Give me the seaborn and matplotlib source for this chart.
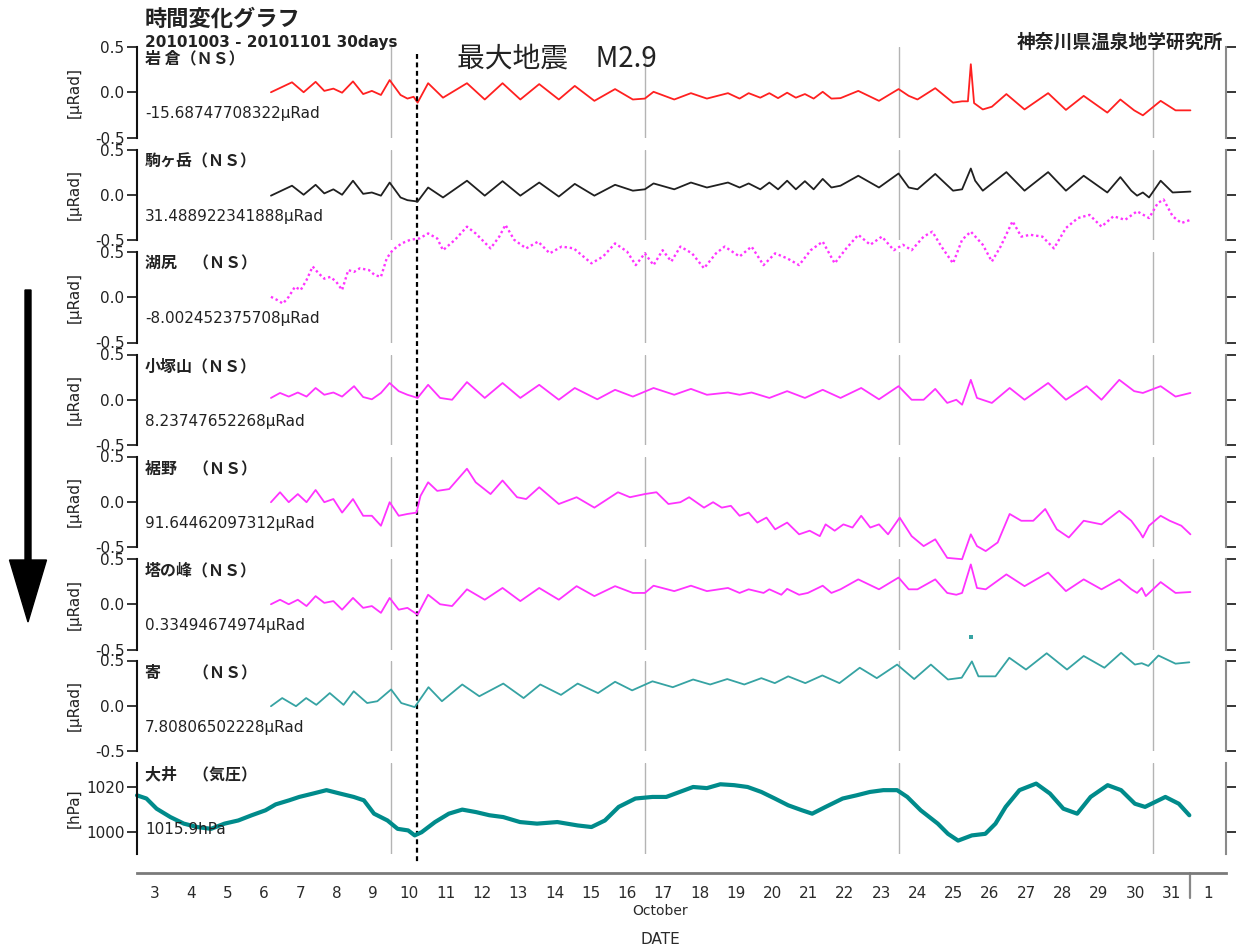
import matplotlib
matplotlib.use("Agg")
import numpy as np
import matplotlib.pyplot as plt
import matplotlib.patches as mpatches
from matplotlib.transforms import blended_transform_factory
import seaborn as sns

# ---- values: x = day of October (10.0 = Oct 10 00:00) ----
iwakura_day = [6.69, 7.27, 7.59, 7.92, 8.16, 8.41, 8.65, 8.95, 9.23, 9.47, 9.72, 9.96, 10.26, 10.45,
               10.62, 10.73, 11.02, 11.43, 12.09, 12.58, 13.07, 13.56, 14.08, 14.62, 15.06, 15.60,
               16.17, 16.66, 16.99, 17.23, 17.80, 18.26, 18.70, 19.28, 19.60, 19.85, 20.17, 20.42,
               20.66, 20.91, 21.15, 21.40, 21.64, 21.89, 22.13, 22.38, 22.87, 23.44, 23.98, 24.26,
               24.50, 24.99, 25.48, 25.73, 25.89, 25.97, 26.06, 26.30, 26.55, 26.95, 27.45, 28.10,
               28.59, 29.08, 29.73, 30.09, 30.47, 30.71, 31.20, 31.61, 32.02]
iwakura_val = [0.0, 0.11, 0.0, 0.115, 0.015, 0.04, -0.005, 0.12, -0.02, 0.015, -0.03, 0.135, -0.03, -0.07,
               -0.05, -0.115, 0.1, -0.06, 0.1, -0.08, 0.1, -0.08, 0.09, -0.08, 0.07, -0.095,
               0.035, -0.08, -0.07, 0.005, -0.08, -0.01, -0.07, -0.01, -0.07, -0.01, -0.06, -0.01,
               -0.065, -0.005, -0.06, -0.02, -0.07, 0.005, -0.07, -0.065, 0.015, -0.095, 0.035, -0.04,
               -0.08, 0.045, -0.115, -0.1, -0.1, 0.31, -0.12, -0.19, -0.16, -0.02, -0.19, -0.01,
               -0.195, -0.04, -0.225, -0.08, -0.2, -0.255, -0.095, -0.2, -0.2]

koma_day = [6.69, 7.27, 7.59, 7.92, 8.16, 8.41, 8.65, 8.95, 9.23, 9.47, 9.72, 9.96, 10.26, 10.45,
            10.73, 11.02, 11.43, 12.09, 12.58, 13.07, 13.56, 14.08, 14.62, 15.06, 15.60, 16.17,
            16.66, 16.99, 17.23, 17.80, 18.26, 18.70, 19.28, 19.60, 19.85, 20.17, 20.42, 20.66,
            20.91, 21.15, 21.40, 21.64, 21.89, 22.13, 22.38, 22.87, 23.44, 23.98, 24.26, 24.50,
            24.99, 25.48, 25.73, 25.97, 26.09, 26.30, 26.95, 27.45, 28.10, 28.59, 29.08, 29.73,
            30.09, 30.39, 30.55, 30.71, 30.88, 31.20, 31.53, 32.02]
koma_val = [-0.01, 0.1, 0.0, 0.11, 0.015, 0.06, 0.0, 0.155, 0.01, 0.025, -0.01, 0.135, -0.03, -0.06,
            -0.075, 0.08, -0.03, 0.155, -0.01, 0.15, -0.01, 0.135, -0.02, 0.12, -0.01, 0.11,
            0.045, 0.06, 0.125, 0.06, 0.135, 0.08, 0.135, 0.08, 0.125, 0.06, 0.135, 0.06,
            0.155, 0.06, 0.15, 0.06, 0.175, 0.08, 0.1, 0.21, 0.08, 0.235, 0.08, 0.06,
            0.23, 0.045, 0.06, 0.29, 0.155, 0.045, 0.25, 0.045, 0.25, 0.045, 0.21, 0.025,
            0.195, 0.045, -0.01, 0.025, -0.03, 0.155, 0.025, 0.035]

kojiri_day = [6.69, 6.86, 7.02, 7.18, 7.35, 7.51, 7.67, 7.84, 8.0, 8.16, 8.33, 8.49, 8.65, 8.82,
              8.98, 9.14, 9.39, 9.55, 9.72, 9.88, 10.04, 10.29, 10.53, 10.78, 11.02, 11.27, 11.43,
              11.76, 12.09, 12.33, 12.74, 12.98, 13.15, 13.39, 13.72, 14.05, 14.37, 14.70, 15.03,
              15.52, 15.84, 16.17, 16.50, 16.74, 16.99, 17.23, 17.48, 17.72, 17.97, 18.29, 18.62,
              18.95, 19.19, 19.60, 19.93, 20.26, 20.58, 20.91, 21.24, 21.56, 21.89, 22.22, 22.54,
              22.87, 23.20, 23.52, 23.85, 24.10, 24.34, 24.67, 24.91, 25.16, 25.48, 25.73, 25.97,
              26.30, 26.55, 26.79, 27.12, 27.36, 27.61, 27.94, 28.26, 28.59, 28.92, 29.24, 29.57,
              29.90, 30.22, 30.55, 30.88, 31.12, 31.28, 31.53, 31.77, 32.02]
kojiri_val = [0.005, -0.03, -0.07, 0.005, 0.115, 0.08, 0.19, 0.34, 0.265, 0.205, 0.225, 0.17, 0.08, 0.3,
              0.28, 0.32, 0.3, 0.245, 0.225, 0.43, 0.52, 0.595, 0.635, 0.65, 0.705, 0.65, 0.52,
              0.635, 0.78, 0.705, 0.54, 0.67, 0.8, 0.635, 0.54, 0.615, 0.485, 0.56, 0.54,
              0.375, 0.45, 0.595, 0.505, 0.355, 0.485, 0.355, 0.52, 0.395, 0.56, 0.485, 0.32,
              0.485, 0.56, 0.45, 0.56, 0.355, 0.485, 0.43, 0.355, 0.52, 0.615, 0.375, 0.54,
              0.69, 0.58, 0.67, 0.52, 0.58, 0.52, 0.67, 0.725, 0.56, 0.375, 0.635, 0.725,
              0.58, 0.395, 0.56, 0.84, 0.67, 0.69, 0.67, 0.54, 0.765, 0.875, 0.91, 0.78,
              0.895, 0.855, 0.95, 0.875, 1.04, 1.08, 0.895, 0.82, 0.855]

kozuka_day = [6.69, 6.94, 7.18, 7.43, 7.67, 7.92, 8.16, 8.41, 8.65, 8.98, 9.23, 9.47, 9.72, 9.96,
              10.21, 10.45, 10.73, 11.02, 11.35, 11.68, 12.09, 12.58, 13.07, 13.56, 14.08, 14.62,
              15.06, 15.68, 16.17, 16.66, 17.23, 17.80, 18.26, 18.70, 19.28, 19.60, 19.93, 20.42,
              20.91, 21.40, 21.89, 22.38, 22.95, 23.44, 23.98, 24.34, 24.67, 24.99, 25.32, 25.57,
              25.73, 25.97, 26.14, 26.55, 27.04, 27.45, 28.10, 28.59, 29.16, 29.57, 30.06, 30.47,
              30.71, 31.20, 31.61, 32.02]
kozuka_val = [0.02, 0.075, 0.035, 0.08, 0.035, 0.13, 0.055, 0.08, 0.035, 0.15, 0.03, 0.005, 0.075, 0.185,
              0.095, 0.055, 0.02, 0.165, 0.02, 0.0, 0.195, 0.02, 0.185, 0.02, 0.165, 0.0,
              0.13, 0.005, 0.11, 0.035, 0.13, 0.055, 0.12, 0.055, 0.08, 0.055, 0.08, 0.02,
              0.095, 0.02, 0.11, 0.02, 0.13, 0.005, 0.15, 0.0, 0.0, 0.12, -0.035, 0.0,
              -0.055, 0.22, 0.02, -0.035, 0.13, 0.0, 0.185, 0.0, 0.15, 0.0, 0.22, 0.095,
              0.075, 0.15, 0.035, 0.075]

susono_day = [6.69, 6.94, 7.18, 7.43, 7.67, 7.92, 8.16, 8.41, 8.65, 8.95, 9.23, 9.47, 9.72, 9.96,
              10.21, 10.45, 10.70, 10.81, 11.02, 11.27, 11.60, 12.09, 12.33, 12.74, 13.07, 13.47,
              13.72, 14.08, 14.62, 15.11, 15.60, 16.25, 16.58, 16.99, 17.31, 17.64, 17.97, 18.21,
              18.62, 18.87, 19.11, 19.36, 19.60, 19.85, 20.09, 20.34, 20.58, 20.91, 21.24, 21.53,
              21.81, 21.97, 22.22, 22.46, 22.71, 22.95, 23.20, 23.44, 23.69, 24.01, 24.34, 24.67,
              24.99, 25.32, 25.73, 25.97, 26.14, 26.38, 26.71, 27.04, 27.36, 27.69, 28.02, 28.34,
              28.67, 29.08, 29.57, 30.06, 30.39, 30.63, 30.71, 30.88, 31.20, 31.45, 31.77, 32.02]
susono_val = [-0.005, 0.105, -0.005, 0.085, -0.005, 0.13, -0.005, 0.03, -0.12, 0.03, -0.155, -0.155, -0.265, -0.005,
              -0.155, -0.135, -0.12, 0.065, 0.215, 0.12, 0.14, 0.365, 0.215, 0.085, 0.235, 0.05,
              0.03, 0.16, -0.025, 0.05, -0.065, 0.105, 0.05, 0.085, 0.105, -0.025, -0.005, 0.05,
              -0.065, -0.005, -0.065, -0.045, -0.155, -0.12, -0.23, -0.175, -0.305, -0.23, -0.36, -0.32,
              -0.38, -0.25, -0.32, -0.25, -0.285, -0.155, -0.285, -0.25, -0.36, -0.175, -0.38, -0.49,
              -0.415, -0.62, -0.635, -0.36, -0.49, -0.545, -0.45, -0.135, -0.21, -0.21, -0.08, -0.305,
              -0.395, -0.21, -0.25, -0.1, -0.21, -0.34, -0.395, -0.265, -0.155, -0.21, -0.265, -0.36]

tonomine_day = [6.69, 6.94, 7.18, 7.43, 7.67, 7.92, 8.16, 8.41, 8.65, 8.95, 9.23, 9.47, 9.72, 9.96,
                10.21, 10.45, 10.73, 11.02, 11.35, 11.68, 12.09, 12.58, 13.07, 13.56, 14.08, 14.62,
                15.11, 15.60, 16.17, 16.66, 16.99, 17.23, 17.80, 18.26, 18.70, 19.03, 19.28, 19.60,
                19.85, 20.26, 20.42, 20.75, 20.91, 21.24, 21.48, 21.89, 22.13, 22.38, 22.87, 23.44,
                23.98, 24.26, 24.50, 24.99, 25.32, 25.57, 25.73, 25.97, 26.14, 26.38, 26.95, 27.45,
                28.10, 28.59, 29.08, 29.57, 30.06, 30.39, 30.55, 30.68, 30.79, 31.20, 31.61, 32.02]
tonomine_val = [0.0, 0.05, 0.0, 0.05, -0.02, 0.09, 0.015, 0.035, -0.06, 0.07, -0.04, -0.02, -0.095, 0.07,
                -0.06, -0.04, -0.115, 0.105, 0.0, -0.02, 0.165, 0.05, 0.18, 0.035, 0.18, 0.05,
                0.2, 0.09, 0.2, 0.125, 0.125, 0.205, 0.145, 0.205, 0.145, 0.165, 0.18, 0.125,
                0.165, 0.125, 0.165, 0.105, 0.17, 0.105, 0.125, 0.205, 0.125, 0.165, 0.275, 0.165,
                0.295, 0.165, 0.165, 0.275, 0.125, 0.105, 0.125, 0.44, 0.18, 0.165, 0.33, 0.2,
                0.35, 0.145, 0.275, 0.165, 0.275, 0.165, 0.125, 0.18, 0.09, 0.245, 0.125, 0.135]

yado_day = [6.69, 7.0, 7.38, 7.66, 7.94, 8.31, 8.69, 8.97, 9.34, 9.62, 10.0, 10.28, 10.65, 11.03,
            11.4, 11.96, 12.43, 13.09, 13.65, 14.11, 14.68, 15.14, 15.7, 16.17, 16.64, 17.2,
            17.76, 18.32, 18.79, 19.26, 19.73, 20.2, 20.57, 20.94, 21.41, 21.88, 22.35, 22.91,
            23.38, 23.94, 24.41, 24.87, 25.34, 25.72, 26.0, 26.18, 26.65, 27.03, 27.49, 28.06,
            28.62, 29.08, 29.65, 30.11, 30.49, 30.68, 30.86, 31.14, 31.61, 31.99]
yado_val = [-0.005, 0.085, -0.005, 0.085, 0.01, 0.14, 0.01, 0.16, 0.03, 0.05, 0.18, 0.03, -0.015, 0.205,
            0.05, 0.235, 0.105, 0.245, 0.085, 0.235, 0.12, 0.245, 0.14, 0.265, 0.17, 0.27,
            0.205, 0.29, 0.235, 0.295, 0.235, 0.305, 0.25, 0.325, 0.25, 0.335, 0.25, 0.42,
            0.305, 0.455, 0.295, 0.455, 0.29, 0.31, 0.49, 0.325, 0.325, 0.53, 0.4, 0.58,
            0.4, 0.55, 0.42, 0.585, 0.455, 0.47, 0.44, 0.555, 0.465, 0.48]
yado_spike_day = [25.97]
yado_spike_val = [0.76]

oi_day = [3.0, 3.26, 3.54, 3.92, 4.29, 4.66, 5.04, 5.41, 5.79, 6.16, 6.54, 6.82, 7.19, 7.47,
          7.85, 8.22, 8.59, 8.97, 9.25, 9.53, 9.9, 10.18, 10.47, 10.65, 10.84, 11.21, 11.59,
          11.96, 12.34, 12.71, 13.09, 13.55, 14.02, 14.58, 15.14, 15.52, 15.89, 16.27, 16.73,
          17.2, 17.58, 17.95, 18.32, 18.7, 19.07, 19.45, 19.82, 20.2, 20.57, 20.94, 21.32,
          21.6, 21.97, 22.44, 22.82, 23.19, 23.56, 23.94, 24.22, 24.59, 25.06, 25.34, 25.62,
          26.0, 26.37, 26.65, 26.93, 27.31, 27.77, 28.15, 28.52, 28.9, 29.27, 29.74, 30.11,
          30.49, 30.77, 31.05, 31.33, 31.7, 31.99]
oi_val = [1016.4, 1015.0, 1010.5, 1006.8, 1003.9, 1002.4, 1001.6, 1003.9, 1005.3, 1007.6, 1009.8, 1012.4,
          1014.2, 1015.7, 1017.2, 1018.7, 1017.2, 1015.7, 1014.2, 1008.3, 1005.3, 1001.6, 1000.9, 998.7,
          1000.1, 1004.6, 1008.3, 1010.1, 1009.0, 1007.6, 1006.8, 1004.6, 1003.9, 1004.6, 1003.1, 1002.4,
          1005.3, 1011.3, 1015.0, 1015.7, 1015.7, 1017.9, 1020.1, 1019.6, 1021.3, 1020.9, 1020.1, 1017.9,
          1015.0, 1012.0, 1009.8, 1008.3, 1011.3, 1015.0, 1016.4, 1017.9, 1018.7, 1018.7, 1015.7, 1009.8,
          1003.9, 999.4, 996.4, 998.7, 999.4, 1003.9, 1011.3, 1018.7, 1021.6, 1017.2, 1010.5, 1008.3,
          1015.7, 1020.9, 1018.7, 1012.7, 1011.3, 1013.5, 1015.7, 1012.7, 1007.6]

names = ["岩 倉（ＮＳ）", "駒ヶ岳（ＮＳ）", "湖尻　（ＮＳ）", "小塚山（ＮＳ）",
         "裾野　（ＮＳ）", "塔の峰（ＮＳ）", "寄　　（ＮＳ）", "大井　（気圧）"]
offsets = ["-15.68747708322μRad", "31.488922341888μRad", "-8.002452375708μRad",
           "8.23747652268μRad", "91.64462097312μRad", "0.33494674974μRad",
           "7.80806502228μRad", "1015.9hPa"]
colors = ["#ff2020", "#202020", "#ff33ff", "#ff33ff", "#ff33ff", "#ff33ff", "#36a3a3", "#008b8b"]
week_lines = [10, 17, 24, 31]
quake_day = 10.70
day_labels = [str(d) for d in range(3, 32)] + ["1"]

series = [(iwakura_day, iwakura_val), (koma_day, koma_val), (kojiri_day, kojiri_val),
          (kozuka_day, kozuka_val), (susono_day, susono_val), (tonomine_day, tonomine_val),
          (yado_day, yado_val), (oi_day, oi_val)]

sns.set_style("white")
plt.rcParams["font.family"] = ["DejaVu Sans", "Noto Sans CJK JP"]
JP = ["Noto Sans CJK JP", "DejaVu Sans"]

W, H = 1236, 950
fig = plt.figure(figsize=(W / 100, H / 100), dpi=100)
left, right = 137, 1226
tops = [47, 149.5, 252, 354.5, 456.5, 559, 660.5, 763]
ph = 90.5

axes = []
for i, top in enumerate(tops):
    ax = fig.add_axes([left / W, 1 - (top + ph) / H, (right - left) / W, ph / H])
    ax.set_facecolor("none")
    ax.set_xlim(3, 33)
    for d in week_lines:
        ax.axvline(d, color="#b4b4b4", lw=1, zorder=0)
    x, y = series[i]
    if i == 2:
        sns.lineplot(x=x, y=y, ax=ax, color=colors[i], lw=1.7, ls=(0, (1, 1.2)),
                     estimator=None, sort=False)
    elif i == 7:
        sns.lineplot(x=x, y=y, ax=ax, color=colors[i], lw=3.0, estimator=None, sort=False)
    else:
        sns.lineplot(x=x, y=y, ax=ax, color=colors[i], lw=1.3, estimator=None, sort=False)
    ax.lines[-1].set_clip_on(False)
    if i == 6:
        sns.scatterplot(x=yado_spike_day, y=yado_spike_val, ax=ax, color=colors[i],
                        s=8, marker="s", linewidth=0)
        ax.collections[-1].set_clip_on(False)

    if i < 7:
        ax.set_ylim(-0.5, 0.5)
        ax.set_yticks([-0.5, 0.0, 0.5])
        ax.set_yticklabels(["-0.5", "0.0", "0.5"])
        ax.set_ylabel("[μRad]", fontsize=11, color="#222")
    else:
        ax.set_ylim(990.7, 1030.7)
        ax.set_yticks([1000, 1020])
        ax.set_yticklabels(["1000", "1020"])
        ax.set_ylabel("[hPa]", fontsize=11, color="#222")
    ax.yaxis.set_label_coords((82 - left) / (right - left), 0.5)
    ax.set_xticks([])
    ax.set_xlabel("")
    for s in ["top", "bottom"]:
        ax.spines[s].set_visible(False)
    ax.spines["left"].set_color("#111")
    ax.spines["left"].set_linewidth(1.5)
    ax.spines["right"].set_color("#8a8a8a")
    ax.spines["right"].set_linewidth(1.5)
    ax.tick_params(axis="y", direction="out", length=7, width=1.3, labelsize=11,
                   labelcolor="#222", left=True, right=True, pad=2)
    for t in ax.yaxis.get_major_ticks():
        t.tick1line.set_color("#222")
        t.tick2line.set_color("#8a8a8a")

    ax.text((145 - left) / (right - left), 0.87, names[i], transform=ax.transAxes,
            fontsize=11.5, fontweight="bold", family=JP, va="center", ha="left", color="#222")
    ax.text((145 - left) / (right - left), 0.26, offsets[i], transform=ax.transAxes,
            fontsize=11, va="center", ha="left", color="#222")
    axes.append(ax)

# earthquake marker across all panels
tr = blended_transform_factory(axes[0].transData, fig.transFigure)
axes[0].plot([quake_day, quake_day], [1 - 54 / H, 1 - 862 / H], transform=tr, clip_on=False,
             color="black", lw=1.6, ls=(0, (2.2, 1.6)), zorder=5)

# time axis
ax_t = fig.add_axes([left / W, 1 - 873 / H, (right - left) / W, 1 / H])
ax_t.set_facecolor("none")
ax_t.set_xlim(3, 33)
ax_t.set_ylim(0, 1)
for s in ["top", "left", "right"]:
    ax_t.spines[s].set_visible(False)
ax_t.spines["bottom"].set_color("#7a7a7a")
ax_t.spines["bottom"].set_linewidth(2)
ax_t.set_yticks([])
ax_t.set_xticks(range(3, 34))
ax_t.set_xticklabels([])
ax_t.set_xticks(np.arange(3, 33.01, 0.25), minor=True)
ax_t.tick_params(axis="x", which="major", direction="out", length=6, width=1.2, color="#777")
ax_t.tick_params(axis="x", which="minor", direction="out", length=3, width=1, color="#888")
trt = blended_transform_factory(ax_t.transData, fig.transFigure)
ax_t.plot([32, 32], [1 - 873 / H, 1 - 898 / H], transform=trt, clip_on=False, color="#888", lw=1.6)
for d, lab in zip(range(3, 33), day_labels):
    ax_t.text(d + 0.5, 1 - 893 / H, lab, transform=trt, ha="center", va="center",
              fontsize=11, color="#2a2a2a")
ax_t.text(17.4, 1 - 911 / H, "October", transform=trt, ha="center", va="center",
          fontsize=10, color="#2a2a2a")
fig.text(660 / W, 1 - 940 / H, "DATE", ha="center", va="center", fontsize=11, color="#2a2a2a")

# header texts
fig.text(145 / W, 1 - 19 / H, "時間変化グラフ", fontsize=16, fontweight="bold", family=JP,
         ha="left", va="center", color="#222")
fig.text(145 / W, 1 - 42 / H, "20101003 - 20101101 30days", fontsize=11, fontweight="bold",
         ha="left", va="center", color="#222")
fig.text(1223 / W, 1 - 42 / H, "神奈川県温泉地学研究所", fontsize=13.5, fontweight="bold",
         family=JP, ha="right", va="center", color="#222")
fig.text(457 / W, 1 - 59 / H, "最大地震　M2.9", fontsize=20, family=JP,
         ha="left", va="center", color="#222")

# big downward arrow on the left
arrow = mpatches.FancyArrow(0.28, (H - 290) / 100, 0, -(622 - 290) / 100, width=0.06,
                            head_width=0.37, head_length=0.62, length_includes_head=True,
                            color="black", transform=fig.dpi_scale_trans)
fig.patches.append(arrow)

fig.savefig("out.png", dpi=100)
